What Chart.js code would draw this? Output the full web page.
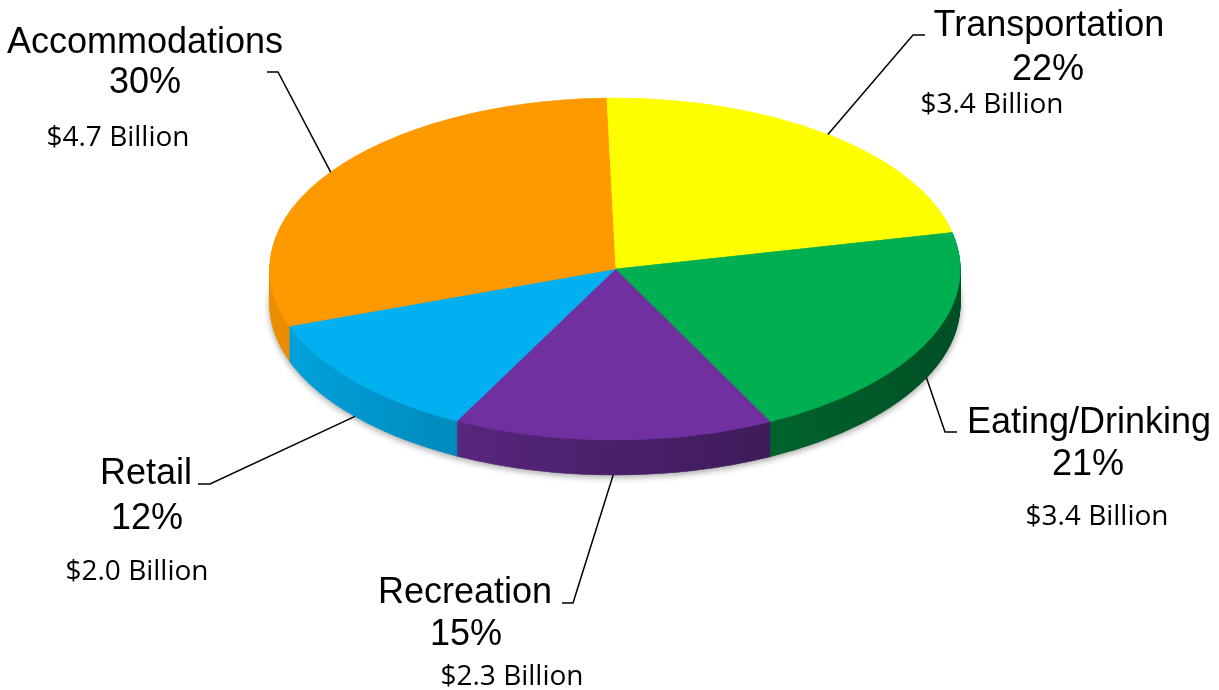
<!DOCTYPE html>
<html>
<head>
<meta charset="utf-8">
<script src="https://cdn.jsdelivr.net/npm/chart.js@4.4.0/dist/chart.umd.min.js"></script>
<style>
  html, body { margin: 0; padding: 0; background: #ffffff; }
  canvas { display: block; }
</style>
</head>
<body>
<canvas id="c" width="1219" height="690"></canvas>
<script>
// Visitor spending by category
const categories = ['Transportation', 'Eating/Drinking', 'Recreation', 'Retail', 'Accommodations'];
const shares = [22, 21, 15, 12, 30];
const spending = ['$3.4 Billion', '$3.4 Billion', '$2.3 Billion', '$2.0 Billion', '$4.7 Billion'];
const colors = ['#ffff00', '#00b050', '#7030a0', '#00b0f0', '#ff9900'];

// Geometry of the tilted pie (ellipse centre, radii and wall thickness)
const CX = 615, CY = 269, RX = 345, RY = 171, DEPTH = 35;

// Label blocks: centre x / baseline of name, percent and amount, plus leader elbow and tick end
const labelLayout = [
  { nx: 1049, ny: 36,  px: 1048, py: 80,  ax: 992,  ay: 113, elbow: [913, 35],  tick: [925, 35] },
  { nx: 1089, ny: 433, px: 1088, py: 475, ax: 1097, ay: 525, elbow: [945, 432], tick: [957, 432] },
  { nx: 465,  ny: 603, px: 466,  py: 645, ax: 512,  ay: 685, elbow: [573, 603], tick: [562, 603] },
  { nx: 146,  ny: 484, px: 147,  py: 529, ax: 137,  ay: 580, elbow: [210, 484], tick: [198, 484] },
  { nx: 145,  ny: 53,  px: 145,  py: 93,  ax: 118,  ay: 146, elbow: [278, 72],  tick: [267, 72] }
];

function shade(hex, f) {
  const n = parseInt(hex.slice(1), 16);
  const r = Math.round(((n >> 16) & 255) * f);
  const g = Math.round(((n >> 8) & 255) * f);
  const b = Math.round((n & 255) * f);
  return 'rgb(' + r + ',' + g + ',' + b + ')';
}

// Squash the pie into an ellipse and extrude a shaded wall beneath it
const tilt = {
  id: 'tilt',
  beforeDatasetsDraw(chart) {
    const ctx = chart.ctx;
    const arcs = chart.getDatasetMeta(0).data;
    const R = arcs[0].outerRadius, ox = arcs[0].x, oy = arcs[0].y;
    const place = (dy) => {
      ctx.translate(CX, CY + dy);
      ctx.scale(RX / R, RY / R);
      ctx.translate(-ox, -oy);
    };
    for (let d = DEPTH; d >= 1; d--) {
      ctx.save();
      if (d === DEPTH) {
        ctx.shadowColor = 'rgba(0,0,0,0.35)';
        ctx.shadowBlur = 6;
        ctx.shadowOffsetY = 2;
      }
      place(d);
      arcs.forEach((arc, i) => {
        const g = ctx.createLinearGradient(ox - R, 0, ox + R, 0);
        g.addColorStop(0, shade(colors[i], 0.93));
        g.addColorStop(0.5, shade(colors[i], 0.66));
        g.addColorStop(1, shade(colors[i], 0.45));
        const o = arc.options;
        arc.options = Object.assign({}, o, { backgroundColor: g, borderColor: g, borderWidth: 1 });
        arc.draw(ctx);
        arc.options = o;
      });
      ctx.restore();
    }
    ctx.save();
    place(0);
  },
  afterDatasetsDraw(chart) {
    chart.ctx.restore();
  }
};

// Category names, percentages, amounts and leader lines
const callouts = {
  id: 'callouts',
  afterDraw(chart) {
    const ctx = chart.ctx;
    const arcs = chart.getDatasetMeta(0).data;
    ctx.save();
    arcs.forEach((arc, i) => {
      const L = labelLayout[i];
      const mid = (arc.startAngle + arc.endAngle) / 2;
      const sx = CX + RX * Math.cos(mid);
      const sy = CY + RY * Math.sin(mid) + (Math.sin(mid) > 0.2 ? DEPTH : 0);
      ctx.strokeStyle = '#000000';
      ctx.lineWidth = 1.5;
      ctx.beginPath();
      ctx.moveTo(sx, sy);
      ctx.lineTo(L.elbow[0], L.elbow[1]);
      ctx.lineTo(L.tick[0], L.tick[1]);
      ctx.stroke();

      ctx.fillStyle = '#000000';
      ctx.textAlign = 'center';
      ctx.textBaseline = 'alphabetic';
      ctx.font = '36px "Liberation Sans", Arial, sans-serif';
      ctx.fillText(categories[i], L.nx, L.ny);
      ctx.fillText(shares[i] + '%', L.px, L.py);
      ctx.font = '28px "Open Sans", sans-serif';
      ctx.fillText(spending[i], L.ax, L.ay);
    });
    ctx.restore();
  }
};

new Chart(document.getElementById('c').getContext('2d'), {
  type: 'pie',
  data: {
    labels: categories,
    datasets: [{
      data: shares,
      backgroundColor: colors,
      borderColor: colors,
      borderWidth: 1
    }]
  },
  options: {
    responsive: false,
    animation: false,
    rotation: -1.5,
    layout: { padding: { left: 300, right: 300, top: 20, bottom: 20 } },
    plugins: {
      legend: { display: false },
      tooltip: { enabled: false }
    }
  },
  plugins: [tilt, callouts]
});
</script>
</body>
</html>
